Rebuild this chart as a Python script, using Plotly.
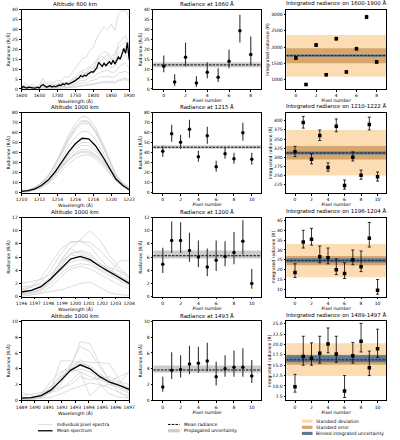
import plotly.graph_objects as go
from plotly.subplots import make_subplots

W, H = 400, 440
FONT = "DejaVu Sans"

# ---------------- column 1: spectra ----------------
wl_600 = list(range(1600, 1901, 10))
wl_600_mean = list(range(1600, 1901, 5))
mean_600 = [0.3, 1.2, 0.8, 0.5, 0.9, 0.6, 0.7, 0.4, 0.6, 0.9, 0.5, 1.8, 2.2, 1.5, 0.9, 1.3,
            1.6, 1.0, 1.4, 1.1, 1.6, 2.0, 1.8, 2.6, 2.2, 3.0, 2.4, 2.8, 3.2, 3.6, 4.2, 5.0,
            5.6, 6.8, 6.2, 7.0, 6.6, 7.6, 8.2, 8.8, 8.5, 9.6, 10.8, 13.5, 12.2, 11.4, 13.0,
            11.8, 12.9, 13.8, 12.4, 14.5, 12.6, 14.8, 16.2, 15.0, 17.5, 20.5, 18.0, 23.5, 15.0]
pix_600 = [
    [0.4, 0.6, 1.2, 0.3, 0.7, 0.2, 1.8, 1.2, 1.0, 1.6, 1.0, 2.0, 1.8, 2.6, 2.8, 3.8, 5.5, 5.5, 6.8, 7.5, 8.0, 10.0, 11.0, 12.5, 12.0, 11.0, 11.5, 15.0, 16.5, 17.0, 14.0],
    [0.1, 0.2, 0.4, 0.0, 0.3, 0.1, 0.6, 0.4, 0.2, 0.5, 0.4, 0.3, 0.7, 0.6, 0.9, 1.2, 1.6, 1.8, 2.0, 2.2, 2.5, 3.0, 3.5, 4.0, 3.5, 4.0, 3.5, 4.5, 5.0, 5.5, 4.5],
    [0.8, 0.4, 1.6, 0.5, 1.0, 0.9, 2.5, 1.5, 2.0, 2.4, 1.5, 2.8, 3.5, 2.8, 4.5, 5.5, 7.0, 8.5, 8.0, 11.0, 10.5, 14.0, 16.5, 16.0, 17.5, 15.0, 16.0, 21.0, 22.5, 24.0, 20.0],
    [0.0, 0.3, 0.1, 0.2, 0.1, 0.3, 0.5, 0.2, 0.4, 0.3, 0.5, 0.4, 0.5, 0.7, 0.8, 1.0, 1.4, 1.5, 1.8, 2.0, 2.2, 2.8, 3.0, 3.2, 3.3, 3.0, 3.0, 4.0, 4.5, 4.8, 3.8],
    [0.0, 0.3, 0.8, 0.6, 0.2, 0.4, 1.5, 0.5, 1.2, 0.6, 1.3, 1.1, 1.4, 1.5, 2.4, 2.8, 4.0, 4.2, 4.5, 6.0, 6.0, 7.5, 8.5, 9.0, 9.5, 8.5, 8.5, 11.0, 12.5, 13.0, 10.5],
    [0.2, 0.5, 0.1, 0.4, 0.6, 0.2, 1.0, 0.3, 0.8, 0.5, 0.6, 1.0, 1.2, 0.9, 1.6, 2.2, 2.5, 3.2, 3.0, 4.0, 4.5, 5.0, 6.5, 6.0, 6.5, 6.0, 6.0, 8.0, 8.5, 9.0, 7.5],
    [0.1, 1.0, 0.6, 0.9, 0.2, 0.8, 2.8, 0.6, 1.5, 1.0, 2.2, 1.6, 2.9, 2.5, 3.5, 5.0, 6.0, 7.5, 7.8, 9.0, 10.5, 12.0, 14.5, 15.5, 14.0, 15.5, 14.0, 18.5, 20.0, 21.5, 17.0],
    [0.5, 3.0, 1.5, 2.5, 0.8, 2.0, 5.5, 2.2, 4.0, 3.0, 4.5, 4.0, 6.5, 5.5, 8.0, 10.5, 13.0, 15.5, 16.0, 19.5, 21.0, 26.0, 29.0, 31.5, 30.0, 33.0, 29.5, 38.0, 39.5, 40.0, 36.0],
    [0.2, 1.8, 0.5, 1.5, 1.2, 0.3, 3.5, 1.0, 2.8, 2.0, 2.6, 3.2, 2.5, 3.8, 5.0, 6.0, 8.5, 9.0, 10.0, 11.5, 12.5, 15.0, 17.5, 19.0, 18.0, 16.5, 17.5, 23.0, 25.0, 27.0, 22.0],
]

wl_1215 = [1210, 1210.75, 1211.5, 1212.25, 1213, 1213.75, 1214.5, 1215.25, 1216,
           1216.75, 1217.5, 1218.25, 1219, 1219.75, 1220.5, 1221.25, 1222]
mean_1215 = [1.5, 2.2, 4.0, 7.5, 13.0, 21.0, 31.0, 41.0, 49.0, 54.5, 54.0, 47.0, 37.0, 25.0, 14.0, 7.5, 3.0]
pix_1215 = [
    [1.0, 1.8, 3.5, 7.0, 12.5, 20.0, 29.0, 38.5, 46.0, 50.5, 50.0, 44.0, 34.5, 23.5, 13.5, 7.0, 2.5],
    [2.0, 3.0, 5.5, 10.0, 17.5, 28.0, 40.5, 54.0, 64.5, 71.5, 70.5, 61.5, 48.0, 32.5, 18.0, 9.5, 4.0],
    [1.5, 2.5, 4.5, 8.5, 15.0, 24.0, 35.0, 46.5, 55.5, 61.5, 61.0, 53.0, 41.5, 28.0, 15.5, 8.5, 3.5],
    [1.8, 3.0, 5.5, 10.5, 18.0, 29.0, 43.0, 58.0, 69.0, 76.5, 75.0, 65.0, 51.0, 34.5, 19.0, 10.0, 4.0],
    [0.8, 1.5, 3.0, 6.0, 11.0, 17.5, 25.5, 33.5, 40.0, 43.5, 43.0, 38.0, 30.0, 20.5, 12.0, 6.5, 2.5],
    [1.5, 2.8, 5.0, 9.5, 17.0, 27.0, 39.5, 52.5, 62.5, 69.5, 69.0, 60.0, 47.0, 32.0, 18.0, 9.5, 4.0],
    [1.0, 1.5, 3.0, 5.5, 9.5, 15.0, 22.0, 29.0, 34.5, 37.5, 38.0, 34.0, 27.5, 19.5, 12.0, 7.0, 3.0],
    [1.2, 2.0, 3.5, 6.5, 11.5, 18.5, 27.0, 36.0, 43.0, 47.5, 47.0, 41.5, 33.0, 23.0, 13.5, 7.5, 3.0],
    [0.8, 1.5, 3.5, 7.0, 12.5, 19.0, 26.5, 33.5, 38.5, 41.5, 41.0, 37.5, 31.0, 23.0, 15.0, 9.0, 4.5],
    [1.5, 2.8, 5.0, 9.5, 17.0, 28.0, 41.0, 55.0, 65.5, 72.5, 71.5, 62.0, 48.5, 32.5, 18.0, 9.0, 3.5],
    [0.5, 1.0, 2.5, 5.5, 10.0, 17.0, 25.0, 32.5, 38.0, 40.5, 40.0, 36.0, 30.5, 24.0, 17.0, 10.5, 5.0],
]

wl_1200 = [1196, 1196.73, 1197.45, 1198.18, 1198.91, 1199.64, 1200.36, 1201.09,
           1201.82, 1202.55, 1203.27, 1204]
mean_1200 = [0.7, 0.95, 1.5, 2.7, 4.2, 5.7, 6.1, 5.6, 4.6, 3.7, 2.9, 2.0]
pix_1200 = [
    [0.3, 0.6, 1.0, 2.0, 3.5, 4.6, 5.0, 4.8, 4.0, 3.2, 2.6, 1.8],
    [1.0, 1.4, 2.2, 4.0, 6.5, 8.2, 8.4, 7.6, 5.8, 4.2, 3.0, 2.0],
    [0.5, 0.8, 1.6, 3.0, 5.2, 7.4, 8.6, 10.0, 8.6, 6.2, 4.4, 3.0],
    [2.0, 2.3, 2.6, 3.4, 5.2, 6.4, 7.0, 6.6, 5.0, 4.0, 3.2, 2.4],
    [0.2, 0.5, 0.9, 2.4, 4.6, 6.4, 6.0, 5.2, 4.2, 3.6, 5.4, 5.5],
    [0.0, 0.3, 0.6, 1.5, 3.0, 4.2, 4.6, 4.2, 3.4, 2.6, 1.8, 1.2],
    [1.5, 1.6, 1.8, 2.6, 4.0, 5.2, 5.6, 5.4, 4.8, 4.4, 3.8, 2.8],
    [0.8, 1.0, 1.4, 2.8, 5.5, 7.3, 6.4, 5.9, 4.6, 3.5, 2.4, 1.6],
    [0.4, 0.6, 1.2, 2.5, 4.8, 6.6, 6.8, 6.2, 5.0, 3.8, 3.2, 2.2],
    [1.2, 1.5, 2.8, 5.0, 7.2, 8.3, 8.4, 8.2, 7.0, 5.4, 4.0, 3.0],
    [0.0, 0.2, 0.5, 0.8, 1.0, 1.5, 2.0, 2.2, 1.4, 0.6, 0.3, 0.2],
]

wl_1493 = [1489, 1489.73, 1490.45, 1491.18, 1491.91, 1492.64, 1493.36, 1494.09,
           1494.82, 1495.55, 1496.27, 1497]
mean_1493 = [0.3, 0.35, 0.6, 1.3, 2.5, 3.8, 4.5, 4.0, 3.0, 2.3, 1.9, 1.4]
pix_1493 = [
    [1.0, 0.6, 0.3, 0.4, 0.8, 1.4, 1.8, 2.2, 2.0, 1.6, 1.0, 0.6],
    [0.0, 0.2, 0.5, 1.2, 2.4, 3.6, 4.0, 3.6, 2.8, 2.0, 1.6, 1.2],
    [0.2, 0.4, 0.8, 2.4, 3.6, 4.0, 3.6, 3.0, 2.6, 2.2, 1.6, 0.8],
    [0.0, 0.1, 0.4, 1.0, 2.0, 4.4, 6.8, 6.2, 4.2, 2.6, 1.8, 1.4],
    [0.4, 0.3, 0.5, 1.0, 2.6, 4.2, 7.4, 7.2, 4.6, 2.4, 1.0, 0.3],
    [0.2, 0.1, 0.3, 1.4, 5.0, 5.0, 4.8, 4.2, 3.2, 2.6, 2.2, 1.6],
    [0.6, 0.8, 1.0, 1.4, 1.6, 2.0, 3.0, 2.6, 2.8, 3.0, 2.4, 2.0],
    [0.2, 0.3, 0.6, 1.6, 3.2, 4.6, 4.6, 4.4, 3.4, 2.4, 3.0, 3.6],
    [0.1, 0.2, 0.8, 1.8, 3.0, 4.0, 5.0, 4.8, 4.8, 4.6, 2.6, 0.8],
    [0.3, 0.2, 0.5, 1.4, 2.8, 4.0, 5.2, 4.0, 2.0, 0.8, 0.4, 0.3],
    [0.1, 0.3, 0.6, 1.0, 1.4, 2.4, 3.6, 0.6, 1.8, 2.0, 2.2, 3.6],
]

# ---------------- column 2: radiance at one wavelength ----------------
rad_1860 = [11.5, 3.5, 16.0, 3.0, 8.5, 6.0, 14.0, 29.5, 17.5]
rad_1860_lo = [8.5, 1.5, 11.5, 1.0, 5.5, 3.5, 10.5, 23.5, 12.5]
rad_1860_hi = [17.0, 7.5, 23.5, 6.5, 13.5, 10.5, 20.0, 37.5, 26.5]
rad_1860_mean, rad_1860_unc = 12.2, (11.0, 13.5)

rad_1215 = [41.5, 59.0, 50.5, 63.5, 36.0, 57.0, 26.0, 39.0, 34.0, 60.0, 33.5]
rad_1215_lo = [36.0, 51.0, 44.0, 55.0, 31.0, 49.0, 21.0, 34.0, 29.0, 52.0, 28.0]
rad_1215_hi = [47.0, 68.0, 58.0, 73.0, 42.0, 66.0, 32.0, 45.0, 40.0, 70.0, 40.0]
rad_1215_mean, rad_1215_unc = 45.5, (44.0, 47.5)

rad_1200 = [4.9, 8.5, 8.5, 7.0, 6.0, 4.5, 5.5, 6.1, 6.7, 8.4, 2.0]
rad_1200_lo = [3.6, 6.6, 6.6, 5.3, 4.5, 3.1, 3.9, 4.6, 4.9, 6.4, 1.2]
rad_1200_hi = [7.4, 11.4, 11.3, 9.7, 8.5, 7.3, 8.5, 8.4, 9.8, 11.6, 4.2]
rad_1200_mean, rad_1200_unc = 6.2, (5.8, 7.0)

rad_1493 = [1.7, 3.8, 3.9, 4.6, 4.7, 5.0, 3.0, 4.0, 4.2, 4.2, 3.1]
rad_1493_lo = [1.1, 2.7, 2.9, 3.3, 3.5, 3.7, 1.9, 3.0, 3.0, 3.0, 2.2]
rad_1493_hi = [3.0, 6.1, 5.7, 6.9, 6.8, 7.3, 4.9, 5.7, 6.3, 6.6, 5.1]
rad_1493_mean, rad_1493_unc = 3.85, (3.5, 4.4)

# ---------------- column 3: integrated radiance ----------------
int_600 = [1660, 840, 2060, 1140, 2260, 1230, 1950, 2930, 1540]
int_600_lo = [1620, 810, 2020, 1110, 2220, 1195, 1910, 2880, 1505]
int_600_hi = [1700, 870, 2100, 1175, 2300, 1265, 1990, 2980, 1580]
int_600_mean = 1734
int_600_sd, int_600_se, int_600_bin = (1080, 2370), (1500, 1960), (1700, 1765)

int_1215 = [315, 395, 295, 360, 272, 385, 223, 300, 251, 390, 247]
int_1215_lo = [302, 380, 282, 346, 262, 370, 213, 290, 240, 375, 235]
int_1215_hi = [330, 412, 310, 375, 285, 405, 238, 315, 265, 410, 260]
int_1215_mean = 312
int_1215_sd, int_1215_se, int_1215_bin = (250, 375), (294, 331), (308, 316)

int_1200 = [18.5, 34.0, 35.5, 26.5, 26.0, 20.0, 18.0, 25.0, 21.5, 36.0, 9.5]
int_1200_lo = [16.0, 31.0, 32.5, 23.5, 23.0, 17.5, 15.5, 22.5, 19.0, 31.5, 7.5]
int_1200_hi = [23.0, 40.0, 41.0, 32.0, 31.0, 25.5, 23.5, 30.0, 29.5, 44.0, 15.0]
int_1200_mean = 24.6
int_1200_sd, int_1200_se, int_1200_bin = (16.2, 33.0), (22.2, 27.0), (23.6, 25.8)

int_1493 = [9.8, 17.1, 16.7, 17.9, 20.1, 17.7, 8.8, 17.3, 20.8, 14.4, 19.0]
int_1493_lo = [8.5, 15.0, 15.0, 15.5, 18.0, 15.7, 7.2, 15.5, 18.2, 12.5, 16.9]
int_1493_hi = [12.8, 22.0, 20.4, 22.0, 24.0, 22.0, 12.5, 20.5, 25.1, 18.4, 23.7]
int_1493_mean = 16.3
int_1493_sd, int_1493_se, int_1493_bin = (12.4, 20.3), (15.1, 17.5), (15.7, 17.4)

rows = [
    dict(title1="Altitude 600 km", wl=wl_600, wl_mean=wl_600_mean, mean=mean_600, pix=pix_600,
         xr1=[1600, 1900], dx1=50, yr=[0, 40], dy=5,
         title2="Radiance at 1860 Å", rad=rad_1860, lo=rad_1860_lo, hi=rad_1860_hi,
         rmean=rad_1860_mean, runc=rad_1860_unc,
         title3="Integrated radiance on 1600-1900 Å", ival=int_600, ilo=int_600_lo, ihi=int_600_hi,
         imean=int_600_mean, sd=int_600_sd, se=int_600_se, bn=int_600_bin,
         yr3=[700, 3150], dy3=500, fmt3=None),
    dict(title1="Altitude 1000 km", wl=wl_1215, wl_mean=wl_1215, mean=mean_1215, pix=pix_1215,
         xr1=[1210, 1222], dx1=2, yr=[0, 80], dy=10,
         title2="Radiance at 1215 Å", rad=rad_1215, lo=rad_1215_lo, hi=rad_1215_hi,
         rmean=rad_1215_mean, runc=rad_1215_unc,
         title3="Integrated radiance on 1210-1222 Å", ival=int_1215, ilo=int_1215_lo, ihi=int_1215_hi,
         imean=int_1215_mean, sd=int_1215_sd, se=int_1215_se, bn=int_1215_bin,
         yr3=[203, 422], dy3=25, fmt3=None),
    dict(title1="Altitude 1000 km", wl=wl_1200, wl_mean=wl_1200, mean=mean_1200, pix=pix_1200,
         xr1=[1196, 1204], dx1=1, yr=[0, 12], dy=2,
         title2="Radiance at 1200 Å", rad=rad_1200, lo=rad_1200_lo, hi=rad_1200_hi,
         rmean=rad_1200_mean, runc=rad_1200_unc,
         title3="Integrated radiance on 1196-1204 Å", ival=int_1200, ilo=int_1200_lo, ihi=int_1200_hi,
         imean=int_1200_mean, sd=int_1200_sd, se=int_1200_se, bn=int_1200_bin,
         yr3=[6.3, 46.5], dy3=5, fmt3=None),
    dict(title1="Altitude 1000 km", wl=wl_1493, wl_mean=wl_1493, mean=mean_1493, pix=pix_1493,
         xr1=[1489, 1497], dx1=1, yr=[0, 10], dy=2,
         title2="Radiance at 1493 Å", rad=rad_1493, lo=rad_1493_lo, hi=rad_1493_hi,
         rmean=rad_1493_mean, runc=rad_1493_unc,
         title3="Integrated radiance on 1489-1497 Å", ival=int_1493, ilo=int_1493_lo, ihi=int_1493_hi,
         imean=int_1493_mean, sd=int_1493_sd, se=int_1493_se, bn=int_1493_bin,
         yr3=[6.5, 25.6], dy3=2.5, fmt3=".1f"),
]

GRAY_LINE = "#d3d3d3"
UNC_GRAY = "rgba(160,160,160,0.55)"
SD_COL = "#fbdcb3"
SE_COL = "#d6a66c"
BIN_COL = "#5f7891"
DASH = "2.5px,1.2px"

# panel positions in pixels (left, right) and (top, bottom)
col_px = [(16, 127), (152, 263), (289, 392)]
row_px = [(8, 88), (112, 193), (218, 298), (323, 403)]

fig = make_subplots(rows=4, cols=3)

axis_common = dict(
    showline=True, mirror=True, linecolor="black", linewidth=0.6,
    ticks="outside", ticklen=2, tickwidth=0.6, tickcolor="black",
    showgrid=False, zeroline=False, tickangle=0,
    tickfont=dict(size=4.5, color="black"),
    title_font=dict(size=4.5, color="black"),
    title_standoff=1,
)

def ax_names(r, c):
    n = r * 3 + c + 1
    s = "" if n == 1 else str(n)
    return "xaxis" + s, "yaxis" + s, "x" + s, "y" + s

for r, row in enumerate(rows):
    # --- spectra
    for spec in row["pix"]:
        fig.add_trace(go.Scatter(x=row["wl"], y=spec, mode="lines",
                                 line=dict(color=GRAY_LINE, width=0.8),
                                 showlegend=False, hoverinfo="skip"), row=r + 1, col=1)
    fig.add_trace(go.Scatter(x=row["wl_mean"], y=row["mean"], mode="lines",
                             line=dict(color="black", width=1.3),
                             showlegend=False), row=r + 1, col=1)

    # --- radiance at a wavelength
    pixels = list(range(len(row["rad"])))
    fig.add_trace(go.Scatter(
        x=pixels, y=row["rad"], mode="markers",
        marker=dict(color="black", size=3.5, symbol="circle"),
        error_y=dict(type="data", symmetric=False,
                     array=[h - v for h, v in zip(row["hi"], row["rad"])],
                     arrayminus=[v - l for l, v in zip(row["lo"], row["rad"])],
                     color="#333333", thickness=1.1, width=0),
        showlegend=False), row=r + 1, col=2)
    fig.add_hrect(y0=row["runc"][0], y1=row["runc"][1], fillcolor=UNC_GRAY,
                  line_width=0, layer="below", row=r + 1, col=2,
                  exclude_empty_subplots=False)
    fig.add_hline(y=row["rmean"], line=dict(color="black", width=1, dash=DASH),
                  layer="below", row=r + 1, col=2, exclude_empty_subplots=False)

    # --- integrated radiance
    fig.add_trace(go.Scatter(
        x=pixels, y=row["ival"], mode="markers",
        marker=dict(color="black", size=3.5, symbol="square"),
        error_y=dict(type="data", symmetric=False,
                     array=[h - v for h, v in zip(row["ihi"], row["ival"])],
                     arrayminus=[v - l for l, v in zip(row["ilo"], row["ival"])],
                     color="black", thickness=0.8, width=1.5),
        showlegend=False), row=r + 1, col=3)
    for band, colr in ((row["sd"], SD_COL), (row["se"], SE_COL), (row["bn"], BIN_COL)):
        fig.add_hrect(y0=band[0], y1=band[1], fillcolor=colr, opacity=1,
                      line_width=0, layer="below", row=r + 1, col=3,
                      exclude_empty_subplots=False)
    fig.add_hline(y=row["imean"], line=dict(color="#10203a", width=1, dash=DASH),
                  layer="below", row=r + 1, col=3, exclude_empty_subplots=False)

    # pixel axis spans half a pixel past each end, plus a 5 % margin
    n = len(pixels)
    xpad = [-0.5 - 0.05 * n, n - 0.5 + 0.05 * n]
    specs = [
        (0, dict(range=row["xr1"], dtick=row["dx1"], title_text="Wavelength (Å)"),
            dict(range=row["yr"], dtick=row["dy"], title_text="Radiance (R/Å)"), row["title1"]),
        (1, dict(range=xpad, dtick=2, title_text="Pixel number"),
            dict(range=row["yr"], dtick=row["dy"], title_text="Radiance (R/Å)"), row["title2"]),
        (2, dict(range=xpad, dtick=2, title_text="Pixel number"),
            dict(range=row["yr3"], dtick=row["dy3"], title_text="Integrated radiance (R)",
                 tickformat=row["fmt3"]), row["title3"]),
    ]
    for c, xa, ya, title in specs:
        xname, yname, xref, yref = ax_names(r, c)
        left, right = col_px[c]
        top, bottom = row_px[r]
        fig.layout[xname].update(domain=[left / W, right / W], **axis_common, **xa)
        fig.layout[yname].update(domain=[1 - bottom / H, 1 - top / H], **axis_common, **ya)
        fig.add_annotation(text=title, xref=xref + " domain", yref=yref + " domain",
                           x=0.5, y=1, yanchor="bottom", yshift=0.5, showarrow=False,
                           font=dict(size=5.5, color="black"))

# ---------------- manual legends under each column ----------------
def px(x):
    return x / W

def py(y):
    return 1 - y / H

def legend_text(x, y, text):
    fig.add_annotation(text=text, xref="paper", yref="paper", x=px(x), y=py(y),
                       xanchor="left", yanchor="middle", showarrow=False,
                       font=dict(size=4.5, color="black"))

def legend_line(x0, x1, y, color, width, dash="solid"):
    fig.add_shape(type="line", xref="paper", yref="paper", x0=px(x0), x1=px(x1),
                  y0=py(y), y1=py(y), line=dict(color=color, width=width, dash=dash))

def legend_box(x0, x1, y, color):
    fig.add_shape(type="rect", xref="paper", yref="paper", x0=px(x0), x1=px(x1),
                  y0=py(y - 1.6), y1=py(y + 1.6), fillcolor=color, line_width=0)

legend_line(33, 48, 427.3, GRAY_LINE, 0.8)
legend_text(51, 427.3, "Individual pixel spectra")
legend_line(33, 48, 433.7, "black", 1.3)
legend_text(51, 433.7, "Mean spectrum")

legend_line(167, 179, 427.3, "black", 1, DASH)
legend_text(181, 427.3, "Mean radiance")
legend_box(167, 179, 433.7, UNC_GRAY)
legend_text(181, 433.7, "Propagated uncertainty")

legend_box(305, 316, 424.0, SD_COL)
legend_text(318, 424.0, "Standard deviation")
legend_box(305, 316, 430.2, SE_COL)
legend_text(318, 430.2, "Standard error")
legend_box(305, 316, 436.4, BIN_COL)
legend_text(318, 436.4, "Binned integrated uncertainty")

fig.update_layout(
    width=W, height=H,
    margin=dict(l=0, r=0, t=0, b=0),
    paper_bgcolor="white", plot_bgcolor="white",
    font=dict(family=FONT, color="black"),
    showlegend=False,
)

# drop the browser's default page margin so the figure sits at the window corner
fig.write_html("out.html", config={"displayModeBar": False},
               post_script="document.body.style.margin = '0px';")
